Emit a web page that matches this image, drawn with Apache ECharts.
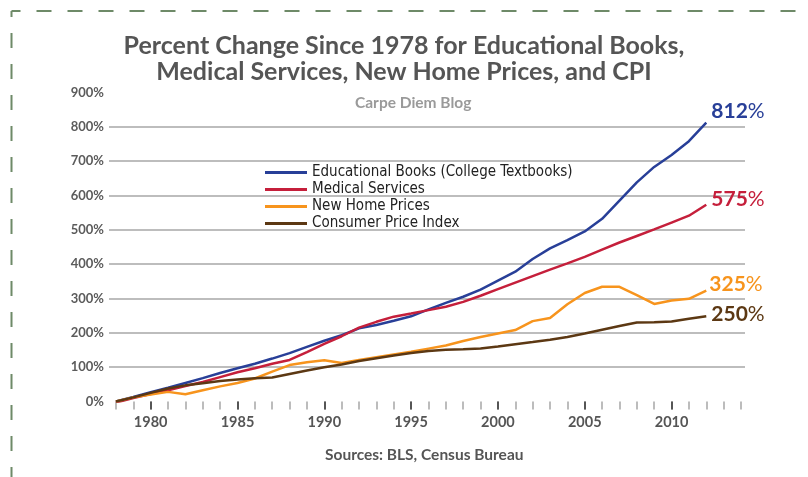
<!DOCTYPE html>
<html>
<head>
<meta charset="utf-8">
<script src="https://cdn.jsdelivr.net/npm/echarts@6/dist/echarts.min.js"></script>
<style>
  html, body { margin: 0; padding: 0; background: #fff; }
  #chart { width: 808px; height: 477px; }
</style>
</head>
<body>
<div id="chart"></div>
<script>
// values, percent change vs 1978
const years = [];
for (let y = 1978; y <= 2012; y++) years.push(y);

const books = [0, 13, 27, 40, 54, 68, 83, 97, 110, 125, 141, 159, 177, 193, 213, 223, 235, 248,
  268, 287, 305, 326, 352, 378, 415, 446, 470, 495, 532, 585, 638, 683, 718, 758, 812];
const medical = [-3, 10, 22, 33, 45, 57, 71, 85, 97, 110, 121, 144, 168, 190, 215, 232, 247, 256,
  266, 276, 290, 308, 327, 346, 365, 384, 402, 421, 442, 463, 482, 501, 521, 541, 573];
const homes = [0, 12, 20, 28, 21, 33, 44, 54, 67, 87, 106, 114, 120, 112, 121, 129, 137, 145,
  154, 163, 176, 188, 198, 208, 234, 243, 283, 316, 334, 334, 310, 284, 294, 299, 323];
const cpi = [0, 12, 25, 38, 47, 53, 60, 64, 68, 70, 80, 90, 100, 108, 118, 126, 134, 141,
  147, 151, 152, 154, 160, 167, 173, 180, 188, 198, 209, 220, 230, 231, 233, 241, 248];

const seriesNames = ['Educational Books (College Textbooks)', 'Medical Services', 'New Home Prices', 'Consumer Price Index'];
const endLabels = ['812', '575', '325', '250'];
const tickYears = [];
for (let y = 1978; y <= 2014; y++) tickYears.push(y);
const labelYears = [1980, 1985, 1990, 1995, 2000, 2005, 2010];

const colors = ['#283f98', '#c51f3b', '#f7941d', '#5c3813'];
const labelOffsets = [[0, -11], [0, -5], [-2, -6], [0, -2]];
const font = 'Lato, "Open Sans", sans-serif';

const chart = echarts.init(document.getElementById('chart'));

const pairs = arr => arr.map((v, i) => [years[i], v]);

function makeSeries(name, arr, idx) {
  return {
    name: name,
    type: 'line',
    data: pairs(arr),
    symbol: 'none',
    lineStyle: { width: 2.5, color: colors[idx] },
    itemStyle: { color: colors[idx] },
    emphasis: { disabled: true },
    endLabel: {
      show: true,
      offset: labelOffsets[idx],
      distance: 5,
      formatter: () => '{n|' + endLabels[idx] + '}{p|%}',
      rich: {
        n: { fontFamily: font, fontWeight: 'bold', fontSize: 21, color: colors[idx] },
        p: { fontFamily: font, fontWeight: 'normal', fontSize: 21, color: colors[idx] }
      }
    }
  };
}

const splitColors = ['rgba(0,0,0,0)', '#bdbdbd', '#bdbdbd', '#bdbdbd', '#bdbdbd', '#bdbdbd', '#bdbdbd', '#bdbdbd', '#bdbdbd', 'rgba(0,0,0,0)'];

chart.setOption({
  animation: false,
  backgroundColor: '#fff',
  title: [
    {
      text: 'Percent Change Since 1978 for Educational Books,\nMedical Services, New Home Prices, and CPI',
      left: 'center',
      top: 28,
      textStyle: { fontFamily: font, fontWeight: 'bold', fontSize: 25, lineHeight: 26, color: '#555' }
    },
    {
      text: 'Carpe Diem Blog',
      left: 350,
      top: 90,
      textStyle: { fontFamily: font, fontWeight: 'bold', fontSize: 15.5, color: '#9a9a9a' }
    },
    {
      text: 'Sources: BLS, Census Bureau',
      left: 320,
      top: 442,
      textStyle: { fontFamily: font, fontWeight: 'bold', fontSize: 15.5, color: '#555' }
    }
  ],
  legend: {
    orient: 'vertical',
    left: 265,
    top: 165,
    padding: 0,
    icon: 'rect',
    itemWidth: 42,
    itemHeight: 3,
    itemGap: 2,
    selectedMode: false,
    data: seriesNames,
    textStyle: { fontFamily: '"DejaVu Sans Condensed", sans-serif', fontSize: 15, lineHeight: 15, color: '#222' }
  },
  grid: { left: 109, right: 63, top: 92.4, bottom: 75.5 },
  xAxis: [
    {
      type: 'value',
      min: 1977.6,
      max: 2014.23,
      axisLine: { show: false },
      splitLine: { show: false },
      axisTick: { show: true, customValues: tickYears, length: 8, lineStyle: { color: '#bcbcbc', width: 2 } },
      axisLabel: { show: false }
    },
    {
      type: 'value',
      position: 'bottom',
      min: 1977.6,
      max: 2014.23,
      axisLine: { show: false },
      splitLine: { show: false },
      axisTick: { show: true, customValues: labelYears, length: 8, lineStyle: { color: '#555', width: 2 } },
      axisLabel: {
        show: true,
        customValues: labelYears,
        formatter: v => String(v),
        margin: 13,
        fontFamily: font,
        fontWeight: 'bold',
        fontSize: 14.5,
        color: '#555'
      }
    }
  ],
  yAxis: {
    type: 'value',
    min: 0,
    max: 900,
    interval: 100,
    axisLine: { show: false },
    axisTick: { show: false },
    axisLabel: { formatter: '{value}%', margin: 5, fontFamily: font, fontWeight: 'bold', fontSize: 13, color: '#5b5b5b' },
    splitLine: { show: true, lineStyle: { color: splitColors, width: 2 } }
  },
  series: [
    makeSeries(seriesNames[0], books, 0),
    makeSeries(seriesNames[1], medical, 1),
    makeSeries(seriesNames[2], homes, 2),
    makeSeries(seriesNames[3], cpi, 3)
  ],
  graphic: [
    {
      type: 'line',
      shape: { x1: 11.5, y1: 11, x2: 11.5, y2: 477 },
      style: { stroke: '#6e8a68', lineWidth: 2, lineDash: [15, 16], lineDashOffset: 9 },
      silent: true
    },
    {
      type: 'line',
      shape: { x1: 11.5, y1: 11, x2: 808, y2: 11 },
      style: { stroke: '#6e8a68', lineWidth: 2, lineDash: [15, 16], lineDashOffset: 6 },
      silent: true
    }
  ]
});
</script>
</body>
</html>
